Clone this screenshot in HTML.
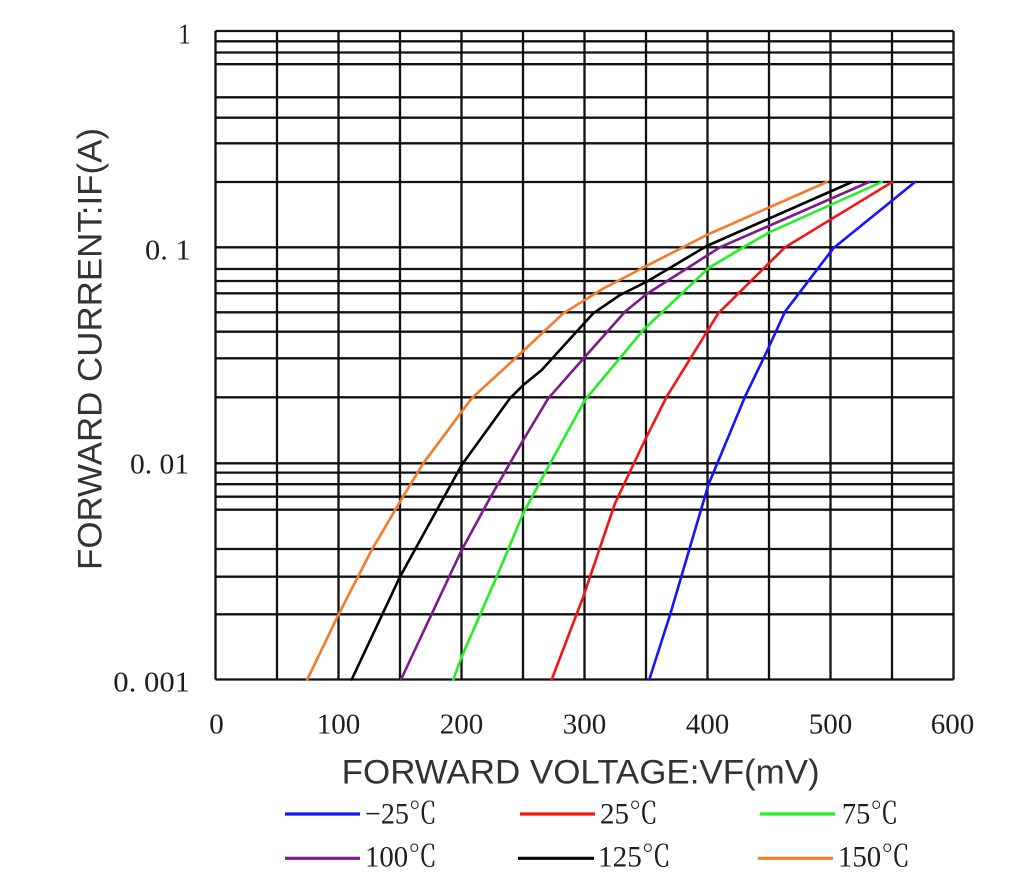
<!DOCTYPE html>
<html>
<head>
<meta charset="utf-8">
<style>
html,body{margin:0;padding:0;background:#fff;}
svg{display:block;}
</style>
</head>
<body>
<svg width="1032" height="886" viewBox="0 0 1032 886" xmlns="http://www.w3.org/2000/svg">
<rect width="1032" height="886" fill="#fff"/>
<g stroke="#111" stroke-width="2.3" fill="none">
<!-- horizontal grid -->
<line x1="215.5" x2="953.5" y1="31" y2="31"/>
<line x1="215.5" x2="953.5" y1="41.3" y2="41.3"/>
<line x1="215.5" x2="953.5" y1="52.5" y2="52.5"/>
<line x1="215.5" x2="953.5" y1="64.2" y2="64.2"/>
<line x1="215.5" x2="953.5" y1="97.3" y2="97.3"/>
<line x1="215.5" x2="953.5" y1="117.7" y2="117.7"/>
<line x1="215.5" x2="953.5" y1="143.3" y2="143.3"/>
<line x1="215.5" x2="953.5" y1="182" y2="182"/>
<line x1="215.5" x2="953.5" y1="247.3" y2="247.3"/>
<line x1="215.5" x2="953.5" y1="269" y2="269"/>
<line x1="215.5" x2="953.5" y1="281" y2="281"/>
<line x1="215.5" x2="953.5" y1="293.3" y2="293.3"/>
<line x1="215.5" x2="953.5" y1="312.3" y2="312.3"/>
<line x1="215.5" x2="953.5" y1="331.7" y2="331.7"/>
<line x1="215.5" x2="953.5" y1="358.3" y2="358.3"/>
<line x1="215.5" x2="953.5" y1="397.3" y2="397.3"/>
<line x1="215.5" x2="953.5" y1="463.3" y2="463.3"/>
<line x1="215.5" x2="953.5" y1="472.6" y2="472.6"/>
<line x1="215.5" x2="953.5" y1="484.2" y2="484.2"/>
<line x1="215.5" x2="953.5" y1="496.7" y2="496.7"/>
<line x1="215.5" x2="953.5" y1="509.7" y2="509.7"/>
<line x1="215.5" x2="953.5" y1="549" y2="549"/>
<line x1="215.5" x2="953.5" y1="576.7" y2="576.7"/>
<line x1="215.5" x2="953.5" y1="614.3" y2="614.3"/>
<line x1="215.5" x2="953.5" y1="679.5" y2="679.5"/>
<!-- vertical grid -->
<line x1="215.5" x2="215.5" y1="31" y2="679.5"/>
<line x1="277" x2="277" y1="31" y2="679.5"/>
<line x1="338.5" x2="338.5" y1="31" y2="679.5"/>
<line x1="400" x2="400" y1="31" y2="679.5"/>
<line x1="461.5" x2="461.5" y1="31" y2="679.5"/>
<line x1="523" x2="523" y1="31" y2="679.5"/>
<line x1="584.5" x2="584.5" y1="31" y2="679.5"/>
<line x1="646" x2="646" y1="31" y2="679.5"/>
<line x1="707.5" x2="707.5" y1="31" y2="679.5"/>
<line x1="769" x2="769" y1="31" y2="679.5"/>
<line x1="830.5" x2="830.5" y1="31" y2="679.5"/>
<line x1="892" x2="892" y1="31" y2="679.5"/>
<line x1="953.5" x2="953.5" y1="31" y2="679.5"/>
</g>

<!-- curves -->
<g fill="none" stroke-width="2.6" stroke-linejoin="round" stroke-linecap="round">
<polyline stroke="#1414ff" points="649.3,679.5 670,615 708.3,485 745,396.7 766.7,351.7 785,311.7 833.3,248.3 915,182"/>
<polyline stroke="#f41414" points="551.7,679.5 583.3,596.7 615,503.3 645,440 666.7,396.7 718.3,313.3 785,247.3 892.3,182"/>
<polyline stroke="#22f022" points="453.3,679.5 461.7,656.7 496.7,576.7 523.3,513.3 548.3,466.7 585,400 643.3,330 708.3,268.3 743.3,247.3 770,232 881.7,182"/>
<polyline stroke="#7d1a8c" points="401,679.5 461.7,550 490,498 523.3,440 548.3,398.3 573.3,370 625,311.7 646.7,294 720,247.3 869,182"/>
<polyline stroke="#000000" points="351.7,679.5 400,576.7 461.7,465 510,398.3 523.3,385 541.7,370 593.3,313.3 620,295 646.7,281.7 706.7,246 852,182"/>
<polyline stroke="#f47a2c" points="307.3,679.5 338.3,615 371.7,550 400,501.7 423.3,463.3 461.7,411.7 471.7,398.3 520,354 563.3,313.3 603.3,288.5 645,266.7 706.7,235 826.7,182"/>
</g>

<!-- y tick labels -->
<g font-family="'Liberation Serif', 'Noto Serif CJK SC', serif" font-size="29" fill="#1e1e1e">
<text x="178.3" y="43.3" textLength="12.4" lengthAdjust="spacingAndGlyphs">1</text>
<text x="145" y="259.3" textLength="45.7" lengthAdjust="spacingAndGlyphs">0. 1</text>
<text x="130" y="473.3" textLength="59" lengthAdjust="spacingAndGlyphs">0. 01</text>
<text x="113.3" y="691.7" textLength="76.7" lengthAdjust="spacingAndGlyphs">0. 001</text>
</g>

<!-- x tick labels -->
<g font-family="'Liberation Serif', 'Noto Serif CJK SC', serif" font-size="29" fill="#1e1e1e" text-anchor="middle">
<text x="216.5" y="733.3">0</text>
<text x="338.5" y="733.3">100</text>
<text x="461.5" y="733.3">200</text>
<text x="584.5" y="733.3">300</text>
<text x="707.5" y="733.3">400</text>
<text x="830.5" y="733.3">500</text>
<text x="952.5" y="733.3">600</text>
</g>

<!-- axis titles -->
<g font-family="'Liberation Sans', sans-serif" font-size="34.5" fill="#333">
<text x="341.7" y="783.3" textLength="478" lengthAdjust="spacingAndGlyphs">FORWARD VOLTAGE:VF(mV)</text>
<text transform="translate(101.5,570) rotate(-90)" x="0" y="0" textLength="442" lengthAdjust="spacingAndGlyphs">FORWARD CURRENT:IF(A)</text>
</g>

<!-- legend -->
<g stroke-width="3.2" fill="none">
<line x1="285" x2="360" y1="814" y2="814" stroke="#1414ff"/>
<line x1="520" x2="595" y1="814" y2="814" stroke="#f41414"/>
<line x1="760" x2="835" y1="814" y2="814" stroke="#22f022"/>
<line x1="285" x2="360" y1="858.3" y2="858.3" stroke="#7d1a8c"/>
<line x1="518" x2="594" y1="858.3" y2="858.3" stroke="#000000"/>
<line x1="758" x2="833" y1="858.3" y2="858.3" stroke="#f47a2c"/>
</g>
<g font-family="'Liberation Serif', 'Noto Serif CJK SC', serif" font-size="30" fill="#1e1e1e">
<text x="365" y="823.3" textLength="72" lengthAdjust="spacingAndGlyphs">−25℃</text>
<text x="600" y="823.3" textLength="58" lengthAdjust="spacingAndGlyphs">25℃</text>
<text x="842" y="823.3" textLength="56.5" lengthAdjust="spacingAndGlyphs">75℃</text>
<text x="365" y="866.7" textLength="72" lengthAdjust="spacingAndGlyphs">100℃</text>
<text x="598" y="866.7" textLength="73" lengthAdjust="spacingAndGlyphs">125℃</text>
<text x="838" y="866.7" textLength="72" lengthAdjust="spacingAndGlyphs">150℃</text>
</g>
</svg>
</body>
</html>
